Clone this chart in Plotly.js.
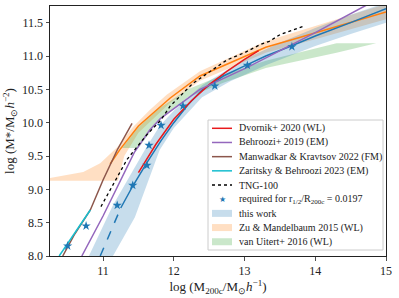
<!DOCTYPE html>
<html>
<head>
<meta charset="utf-8">
<script src="https://cdn.plot.ly/plotly-3.0.1.min.js"></script>
<style>html,body{margin:0;padding:0;background:#fff;}#chart{width:399px;height:298px;}</style>
</head>
<body>
<div id="chart"></div>
<script>
// ---- data ----
const dvornikX = [11.5, 11.75, 12.0, 12.25, 12.5, 12.75, 13.0, 13.2];
const dvornikY = [9.25, 9.68, 10.05, 10.33, 10.57, 10.77, 10.95, 11.08];

const behrooziX = [10.70, 11.0, 11.44, 11.66, 11.81, 12.06, 12.37, 13.04, 13.3, 14.0, 14.7, 15.0];
const behrooziY = [8.0, 8.6, 9.55, 9.89, 10.06, 10.26, 10.5, 10.83, 10.97, 11.35, 11.75, 11.9];

const manwadkarX = [10.43, 10.6, 10.82, 11.0, 11.2, 11.41];
const manwadkarY = [8.0, 8.33, 8.69, 9.14, 9.59, 9.99];

const zaritskyX = [10.38, 10.82];
const zaritskyY = [8.0, 8.69];

const tngX = [10.97, 11.1, 11.34, 11.62, 11.81, 11.95, 12.27, 12.75, 13.0, 13.22, 13.35, 13.5, 13.84];
const tngY = [8.74, 8.99, 9.45, 9.82, 10.03, 10.25, 10.59, 10.94, 11.05, 11.17, 11.22, 11.32, 11.45];

const starX = [10.5, 10.76, 11.2, 11.42, 11.62, 11.65, 11.82, 12.13, 12.58, 13.04, 13.67];
const starY = [8.15, 8.45, 8.76, 9.06, 9.36, 9.66, 9.96, 10.25, 10.55, 10.86, 11.14];

// this work: median (dashed extrapolated part + solid part) and band edges
const workDashX = [10.96, 11.25];
const workDashY = [8.0, 8.72];
const workX = [11.25, 11.42, 11.62, 11.82, 12.0, 12.2, 12.4, 12.7, 13.04, 13.3, 13.66, 14.0, 14.5, 15.0];
const workY = [8.72, 9.05, 9.4, 9.73, 10.0, 10.27, 10.49, 10.7, 10.87, 11.0, 11.15, 11.3, 11.5, 11.71];
const workUpX = [10.8, 11.14, 11.59, 11.8, 12.0, 12.4, 13.0, 13.5, 14.0, 14.5, 15.0];
const workUpY = [8.0, 8.76, 9.59, 9.95, 10.18, 10.56, 10.95, 11.2, 11.42, 11.62, 11.8];
const workLoX = [11.14, 11.45, 11.8, 12.0, 12.4, 12.8, 13.3, 14.0, 14.5, 15.0];
const workLoY = [8.0, 8.58, 9.59, 9.92, 10.38, 10.62, 10.86, 11.15, 11.33, 11.5];

// Zu & Mandelbaum 2015: line and band
const zuX = [11.1, 11.24, 11.5, 11.95, 12.37, 13.3, 13.79, 15.0];
const zuY = [9.38, 9.6, 9.95, 10.37, 10.7, 11.13, 11.28, 11.66];
const zuUpX = [10.25, 10.72, 10.96, 11.2, 11.42, 11.66, 11.9, 12.37, 13.3, 14.0, 15.0];
const zuUpY = [9.17, 9.26, 9.39, 9.63, 9.93, 10.19, 10.42, 10.77, 11.22, 11.45, 11.78];
const zuLoX = [10.25, 11.21, 11.3, 11.5, 11.95, 12.37, 13.3, 14.0, 15.0];
const zuLoY = [9.13, 9.13, 9.5, 9.85, 10.3, 10.63, 11.05, 11.25, 11.55];

// van Uitert+ 2016 band
const vuUpX = [11.27, 11.5, 11.8, 12.2, 12.7, 13.3, 14.3, 14.86];
const vuUpY = [9.62, 9.93, 10.22, 10.5, 10.72, 10.93, 11.19, 11.19];
const vuLoX = [11.27, 11.5, 11.8, 12.2, 12.7, 13.3, 14.3, 14.86];
const vuLoY = [9.62, 9.62, 10.05, 10.38, 10.6, 10.82, 11.05, 11.19];

const xTicks = [11, 12, 13, 14, 15];
const yTicks = [8.0, 8.5, 9.0, 9.5, 10.0, 10.5, 11.0, 11.5];

const legendNames = [
  'Dvornik+ 2020 (WL)',
  'Behroozi+ 2019 (EM)',
  'Manwadkar &amp; Kravtsov 2022 (FM)',
  'Zaritsky &amp; Behroozi 2023 (EM)',
  'TNG-100',
  'required for r<sub>1/2</sub>/R<sub>200c</sub> = 0.0197',
  'this work',
  'Zu &amp; Mandelbaum 2015 (WL)',
  'van Uitert+ 2016 (WL)'
];

// ---- styles ----
const C = {
  blue: '#1f77b4', orange: '#ff7f0e', green: '#2ca02c', red: '#e8191c',
  purple: '#9467bd', brown: '#8c564b', cyan: '#17becf'
};
const FONT = 'Liberation Serif, Times New Roman, serif';

function poly(upX, upY, loX, loY) {
  return {x: upX.concat(loX.slice().reverse()), y: upY.concat(loY.slice().reverse())};
}
const workBand = poly(workUpX, workUpY, workLoX, workLoY);
const zuBand = poly(zuUpX, zuUpY, zuLoX, zuLoY);
const vuBand = poly(vuUpX, vuUpY, vuLoX, vuLoY);

const traces = [
  {x: zuBand.x, y: zuBand.y, fill: 'toself', mode: 'none', fillcolor: 'rgba(255,127,14,0.25)', name: 'Zu & Mandelbaum 2015 (WL)', hoverinfo: 'skip'},
  {x: vuBand.x, y: vuBand.y, fill: 'toself', mode: 'none', fillcolor: 'rgba(44,160,44,0.25)', name: 'van Uitert+ 2016 (WL)', hoverinfo: 'skip'},
  {x: workBand.x, y: workBand.y, fill: 'toself', mode: 'none', fillcolor: 'rgba(31,119,180,0.25)', name: 'this work', hoverinfo: 'skip'},
  {x: zuX, y: zuY, mode: 'lines', line: {color: C.orange, width: 1.5}, name: 'Zu & Mandelbaum 2015 (median)'},
  {x: workDashX, y: workDashY, mode: 'lines', line: {color: C.blue, width: 1.5, dash: 'dash'}, name: 'this work (extrapolated)'},
  {x: workX, y: workY, mode: 'lines', line: {color: C.blue, width: 1.5}, name: 'this work (median)'},
  {x: dvornikX, y: dvornikY, mode: 'lines', line: {color: C.red, width: 1.5}, name: 'Dvornik+ 2020 (WL)'},
  {x: behrooziX, y: behrooziY, mode: 'lines', line: {color: C.purple, width: 1.5}, name: 'Behroozi+ 2019 (EM)'},
  {x: manwadkarX, y: manwadkarY, mode: 'lines', line: {color: C.brown, width: 1.5}, name: 'Manwadkar & Kravtsov 2022 (FM)'},
  {x: zaritskyX, y: zaritskyY, mode: 'lines', line: {color: C.cyan, width: 1.5}, name: 'Zaritsky & Behroozi 2023 (EM)'},
  {x: tngX, y: tngY, mode: 'lines', line: {color: '#000', width: 1.3, dash: 'dot'}, name: 'TNG-100'},
  {x: starX, y: starY, mode: 'markers', marker: {symbol: 'star', size: 7, color: C.blue}, name: 'required stars'}
];

// ---- manual legend (matplotlib-like compact layout) ----
const ML = 50, MR = 13, MT = 6, MB = 42, W = 399, H = 298;
const PW = W - ML - MR, PH = H - MT - MB;
const px = xp => (xp - ML) / PW;
const py = yp => (H - MB - yp) / PH;

const shapes = [{
  type: 'rect', xref: 'paper', yref: 'paper', layer: 'above',
  x0: px(208), x1: px(383), y0: py(250), y1: py(120),
  line: {color: '#cccccc', width: 1}, fillcolor: 'rgba(255,255,255,0.85)'
}];
const annotations = [];
const symStyles = [
  {k: 'line', c: C.red}, {k: 'line', c: C.purple}, {k: 'line', c: C.brown}, {k: 'line', c: C.cyan},
  {k: 'dot', c: '#000'}, {k: 'star', c: C.blue},
  {k: 'fill', c: 'rgba(31,119,180,0.25)'}, {k: 'fill', c: 'rgba(255,127,14,0.25)'}, {k: 'fill', c: 'rgba(44,160,44,0.25)'}
];
legendNames.forEach((nm, i) => {
  const yc = 128.3 + 14.18 * i;
  const s = symStyles[i];
  if (s.k === 'line' || s.k === 'dot') {
    shapes.push({type: 'line', xref: 'paper', yref: 'paper', layer: 'above',
      x0: px(212), x1: px(232), y0: py(yc), y1: py(yc),
      line: {color: s.c, width: s.k === 'dot' ? 1.3 : 1.5, dash: s.k === 'dot' ? 'dot' : 'solid'}});
  } else if (s.k === 'fill') {
    shapes.push({type: 'rect', xref: 'paper', yref: 'paper', layer: 'above',
      x0: px(212), x1: px(232), y0: py(yc + 3.5), y1: py(yc - 3.5),
      line: {width: 0}, fillcolor: s.c});
  } else {
    annotations.push({xref: 'paper', yref: 'paper', x: px(222), y: py(yc), text: '★',
      showarrow: false, xanchor: 'center', yanchor: 'middle',
      font: {family: 'DejaVu Sans', size: 8, color: s.c}});
  }
  annotations.push({xref: 'paper', yref: 'paper', x: px(237), y: py(yc), text: nm,
    showarrow: false, xanchor: 'left', yanchor: 'middle', align: 'left',
    font: {family: FONT, size: 10, color: '#222'}});
});

const layout = {
  width: W, height: H,
  margin: {l: ML, r: MR, t: MT, b: MB},
  paper_bgcolor: '#fff', plot_bgcolor: '#fff',
  showlegend: false,
  font: {family: FONT, size: 12, color: '#222'},
  xaxis: {
    range: [10.25, 15], tickvals: xTicks, ticktext: xTicks.map(String),
    ticks: 'outside', ticklen: 3.5, tickwidth: 0.8, tickcolor: '#222',
    showline: true, mirror: true, linecolor: '#222', linewidth: 1,
    showgrid: false, zeroline: false,
    tickfont: {family: FONT, size: 12, color: '#222'},
    title: {text: 'log (M<sub>200c</sub>/M<sub>⊙</sub><i>h</i><sup>−1</sup>)', font: {family: FONT, size: 13, color: '#222'}, standoff: 3}
  },
  yaxis: {
    range: [8, 11.75], tickvals: yTicks, ticktext: yTicks.map(v => v.toFixed(1)),
    ticks: 'outside', ticklen: 3.5, tickwidth: 0.8, tickcolor: '#222',
    showline: true, mirror: true, linecolor: '#222', linewidth: 1,
    showgrid: false, zeroline: false,
    tickfont: {family: FONT, size: 12, color: '#222'},
    title: {text: 'log (M*/M<sub>⊙</sub><i>h</i><sup>−2</sup>)', font: {family: FONT, size: 13, color: '#222'}, standoff: 4}
  },
  shapes: shapes,
  annotations: annotations
};

Plotly.newPlot('chart', traces, layout, {staticPlot: true, displayModeBar: false});
</script>
</body>
</html>
